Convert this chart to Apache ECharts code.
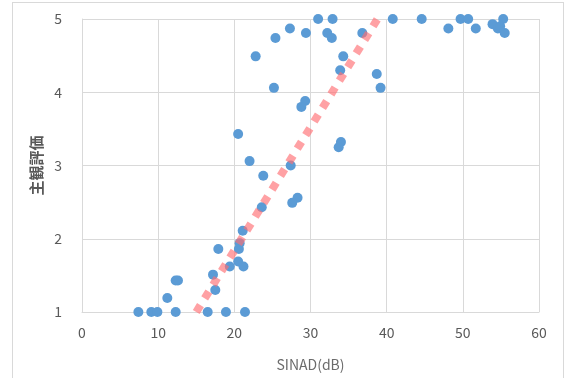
<!DOCTYPE html>
<html><head><meta charset="utf-8">
<script src="https://cdn.jsdelivr.net/npm/echarts@6/dist/echarts.min.js"></script>
<style>
html,body{margin:0;padding:0;background:#fff;}
#frame{position:absolute;left:12px;top:2px;width:552px;height:380px;border:1px solid #d9d9d9;box-sizing:border-box;}
#c{position:absolute;left:0;top:0;width:566px;height:378px;}
</style></head>
<body><div id="frame"></div><div id="c"></div>
<script>
const sinad = [31.0,32.9,27.3,29.4,25.4,32.2,32.8,36.8,22.8,34.3,33.9,38.7,25.2,39.2,40.8,44.6,49.7,50.7,48.1,51.7,53.9,54.6,55.3,55.5,54.9,
  29.3,28.8,20.5,34.0,33.7,22.0,27.4,23.8,28.3,27.6,23.6,21.1,17.9,20.7,20.6,20.5,19.4,21.2,17.2,17.5,12.3,12.6,11.2,
  7.4,9.1,9.9,12.3,16.5,18.9,21.4];
const score = [5.0,5.0,4.87,4.81,4.74,4.81,4.74,4.81,4.49,4.49,4.30,4.25,4.06,4.06,5.0,5.0,5.0,5.0,4.87,4.87,4.93,4.87,5.0,4.81,4.9,
  3.88,3.80,3.43,3.32,3.25,3.06,3.0,2.86,2.56,2.49,2.43,2.11,1.86,1.94,1.86,1.69,1.62,1.62,1.51,1.30,1.43,1.43,1.19,
  1,1,1,1,1,1,1];
const trendX = [15.0, 38.8];
const trendY = [1.0, 5.0];
const xTicks = [0,10,20,30,40,50,60];
const yTicks = [1,2,3,4,5];

const chart = echarts.init(document.getElementById('c'));
chart.setOption({
  animation:false,
  grid:{left:82,right:27,top:19,bottom:66},
  xAxis:{type:'value',min:xTicks[0],max:xTicks[xTicks.length-1],interval:10,
    name:'SINAD(dB)',nameLocation:'middle',nameGap:46,
    nameTextStyle:{color:'#6b6b6b',fontSize:14,fontFamily:'Noto Sans CJK JP'},
    axisLine:{show:true,lineStyle:{color:'#d9d9d9'}},axisTick:{show:false},
    axisLabel:{color:'#595959',fontSize:14,margin:14,fontFamily:'Noto Sans CJK JP'},
    splitLine:{lineStyle:{color:'#d9d9d9',width:1}}},
  yAxis:{type:'value',min:yTicks[0],max:yTicks[yTicks.length-1],interval:1,
    name:'主観評価',nameLocation:'middle',nameGap:38,nameRotate:90,
    nameTextStyle:{color:'#595959',fontSize:15,fontWeight:'bold',fontFamily:'Noto Sans CJK JP'},
    axisLine:{show:true,lineStyle:{color:'#d9d9d9'}},axisTick:{show:false},
    axisLabel:{color:'#595959',fontSize:14,margin:20,fontFamily:'Noto Sans CJK JP'},
    splitLine:{lineStyle:{color:'#d9d9d9',width:1}}},
  series:[
    {type:'scatter',data:sinad.map((x,i)=>[x,score[i]]),symbolSize:10,
      itemStyle:{color:'#5b9bd5',opacity:1},z:2},
    {type:'line',data:trendX.map((x,i)=>[x,trendY[i]]),symbol:'none',
      lineStyle:{color:'rgba(255,110,115,0.65)',width:8,type:[8,8],cap:'butt'},z:3}
  ]
});
</script></body></html>
